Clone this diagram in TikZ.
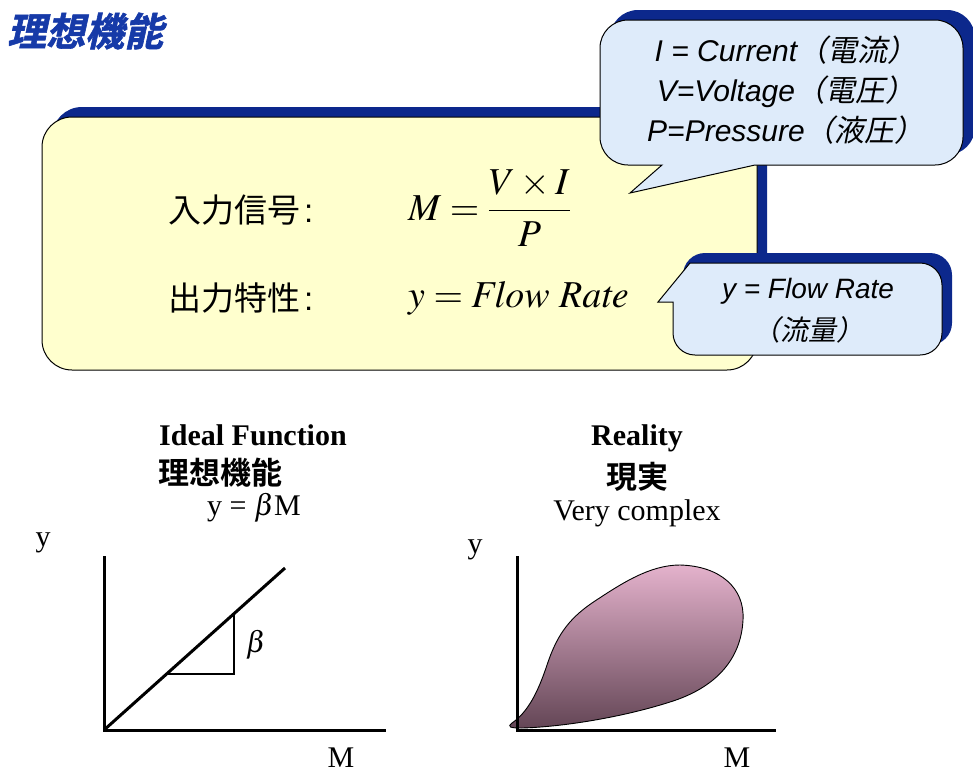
\documentclass[tikz,border=0pt]{standalone}
\usepackage{mathptmx}
\usepackage{fontspec}
\setmainfont{Liberation Serif}
\setsansfont{Liberation Sans}
\newfontfamily\cjk{Noto Sans CJK JP}
\newfontfamily\cjkb{Noto Sans CJK JP Bold}
\newfontfamily\cjkti{Noto Sans CJK JP Bold}[FakeSlant=0.22,FakeBold=1.5]
\newfontfamily\cjki{Noto Sans CJK JP}[FakeSlant=0.2]
\definecolor{navy}{RGB}{12,40,140}
\definecolor{yellowfill}{RGB}{255,255,206}
\definecolor{callfill}{RGB}{222,235,250}
\definecolor{titleblue}{RGB}{22,58,168}
\definecolor{blobtop}{RGB}{228,178,204}
\definecolor{blobbot}{RGB}{100,70,86}
\begin{document}
\begin{tikzpicture}[x=1pt,y=-1pt,
  callouttxt/.style={font=\sffamily\itshape\fontsize{30}{40}\selectfont, align=center, inner sep=0},
  cjklabel/.style={font=\cjk\fontsize{33}{36}\selectfont, anchor=west, inner sep=0},
  mathtxt/.style={font=\fontsize{38}{44}\selectfont, anchor=west, inner sep=0},
  serif/.style={font=\rmfamily\fontsize{30}{34}\selectfont, inner sep=0},
  serifb/.style={font=\rmfamily\bfseries\fontsize{30}{34}\selectfont, inner sep=0},
  cjkhead/.style={font=\cjkb\fontsize{31}{34}\selectfont, inner sep=0},
  axis/.style={line width=3pt, line cap=rect},
  shadowbox/.style={fill=navy},
  outline/.style={draw=black, line width=1pt}]
\useasboundingbox (0,0) rectangle (973,774);

% title
\node[anchor=west, font=\cjkti\fontsize{39}{42}\selectfont, text=titleblue, inner sep=0] (title) at (7,31) {理想機能};

% main yellow box
\fill[shadowbox, rounded corners=30pt] (52,107) rectangle (767,360);
\filldraw[fill=yellowfill, outline, rounded corners=30pt] (42,117) rectangle (757,370);

% callout 1
\fill[shadowbox, rounded corners=28pt] (610,10) rectangle (975,155);
\filldraw[fill=callfill, outline] (600,48) arc[start angle=180,end angle=270,radius=28]
  -- (935,20) arc[start angle=270,end angle=360,radius=28]
  -- (963,137) arc[start angle=0,end angle=90,radius=28]
  -- (755,165) -- (630,193) -- (662,165)
  -- (628,165) arc[start angle=90,end angle=180,radius=28] -- cycle;
\node[callouttxt] (c1) at (786,90) {I = Current{\cjki（電流）}\\V=Voltage{\cjki（電圧）}\\P=Pressure{\cjki（液圧）}};

% callout 2
\fill[shadowbox, rounded corners=22pt] (683,253) rectangle (952,345);
\filldraw[fill=callfill, outline] (690,263)
  -- (920,263) arc[start angle=270,end angle=360,radius=22]
  -- (942,333) arc[start angle=0,end angle=90,radius=22]
  -- (695,355) arc[start angle=90,end angle=180,radius=22]
  -- (673,302) -- (658,302) -- cycle;
\node[callouttxt, font=\sffamily\itshape\fontsize{28}{42}\selectfont] (c2) at (808,311) {y = Flow Rate\\{\cjki（流量）}};

% box contents
\node[cjklabel] (in) at (168,210) {入力信号\hspace{4pt}{\sffamily:}};
\node[cjklabel] (out) at (168,298) {出力特性\hspace{4pt}{\sffamily:}};
\node[mathtxt] (meq) at (408,208) {$\displaystyle M = \frac{V\times I}{P}$};
\node[mathtxt] (yeq) at (408,298) {$y = \mathit{Flow\ Rate}$};

% left graph
\node[serifb] (ideal) at (253,435) {Ideal Function};
\node[cjkhead, anchor=west] (ideal2) at (158,473) {理想機能};
\node[serif] (ideal3) at (254,508) {y = $\beta$M};
\node[serif] (ly) at (43,543) {y};
\node[serif] (lm) at (341,758) {M};
\coordinate (o1) at (104,730);
\coordinate (y1) at (104,557);
\coordinate (x1) at (384,730);
\coordinate (d1) at (285,568);
\draw[axis] (y1) -- (o1) -- (x1);
\draw[line width=3pt] (o1) -- (d1);
\coordinate (t1) at (167,674);
\coordinate (t2) at (234,674);
\coordinate (t3) at (234,615);
\draw[line width=1.2pt] (t1) -- (t2) -- (t3);
\node[serif] (beta) at (256,645) {$\beta$};

% right graph
\node[serifb] (real) at (637,438) {Reality};
\node[cjkhead] (real2) at (637,477) {現実};
\node[serif] (real3) at (637,513) {Very complex};
\node[serif] (ry) at (475,550) {y};
\node[serif] (rm) at (737,758) {M};
\coordinate (o2) at (517,730);
\coordinate (y2) at (517,557);
\coordinate (x2) at (774,730);
\shade[top color=blobtop, bottom color=blobbot, draw=black, line width=0.9pt]
  (512,723) .. controls (528,712) and (538,692) .. (547,665)
  .. controls (556,638) and (567,620) .. (592,603)
  .. controls (622,583) and (650,565) .. (680,565)
  .. controls (720,566) and (745,588) .. (743,620)
  .. controls (741,660) and (715,688) .. (670,702)
  .. controls (620,718) and (560,727) .. (522,728)
  .. controls (510,728) and (507,727) .. (512,723) -- cycle;
\draw[axis] (y2) -- (o2) -- (x2);
\end{tikzpicture}
\end{document}
